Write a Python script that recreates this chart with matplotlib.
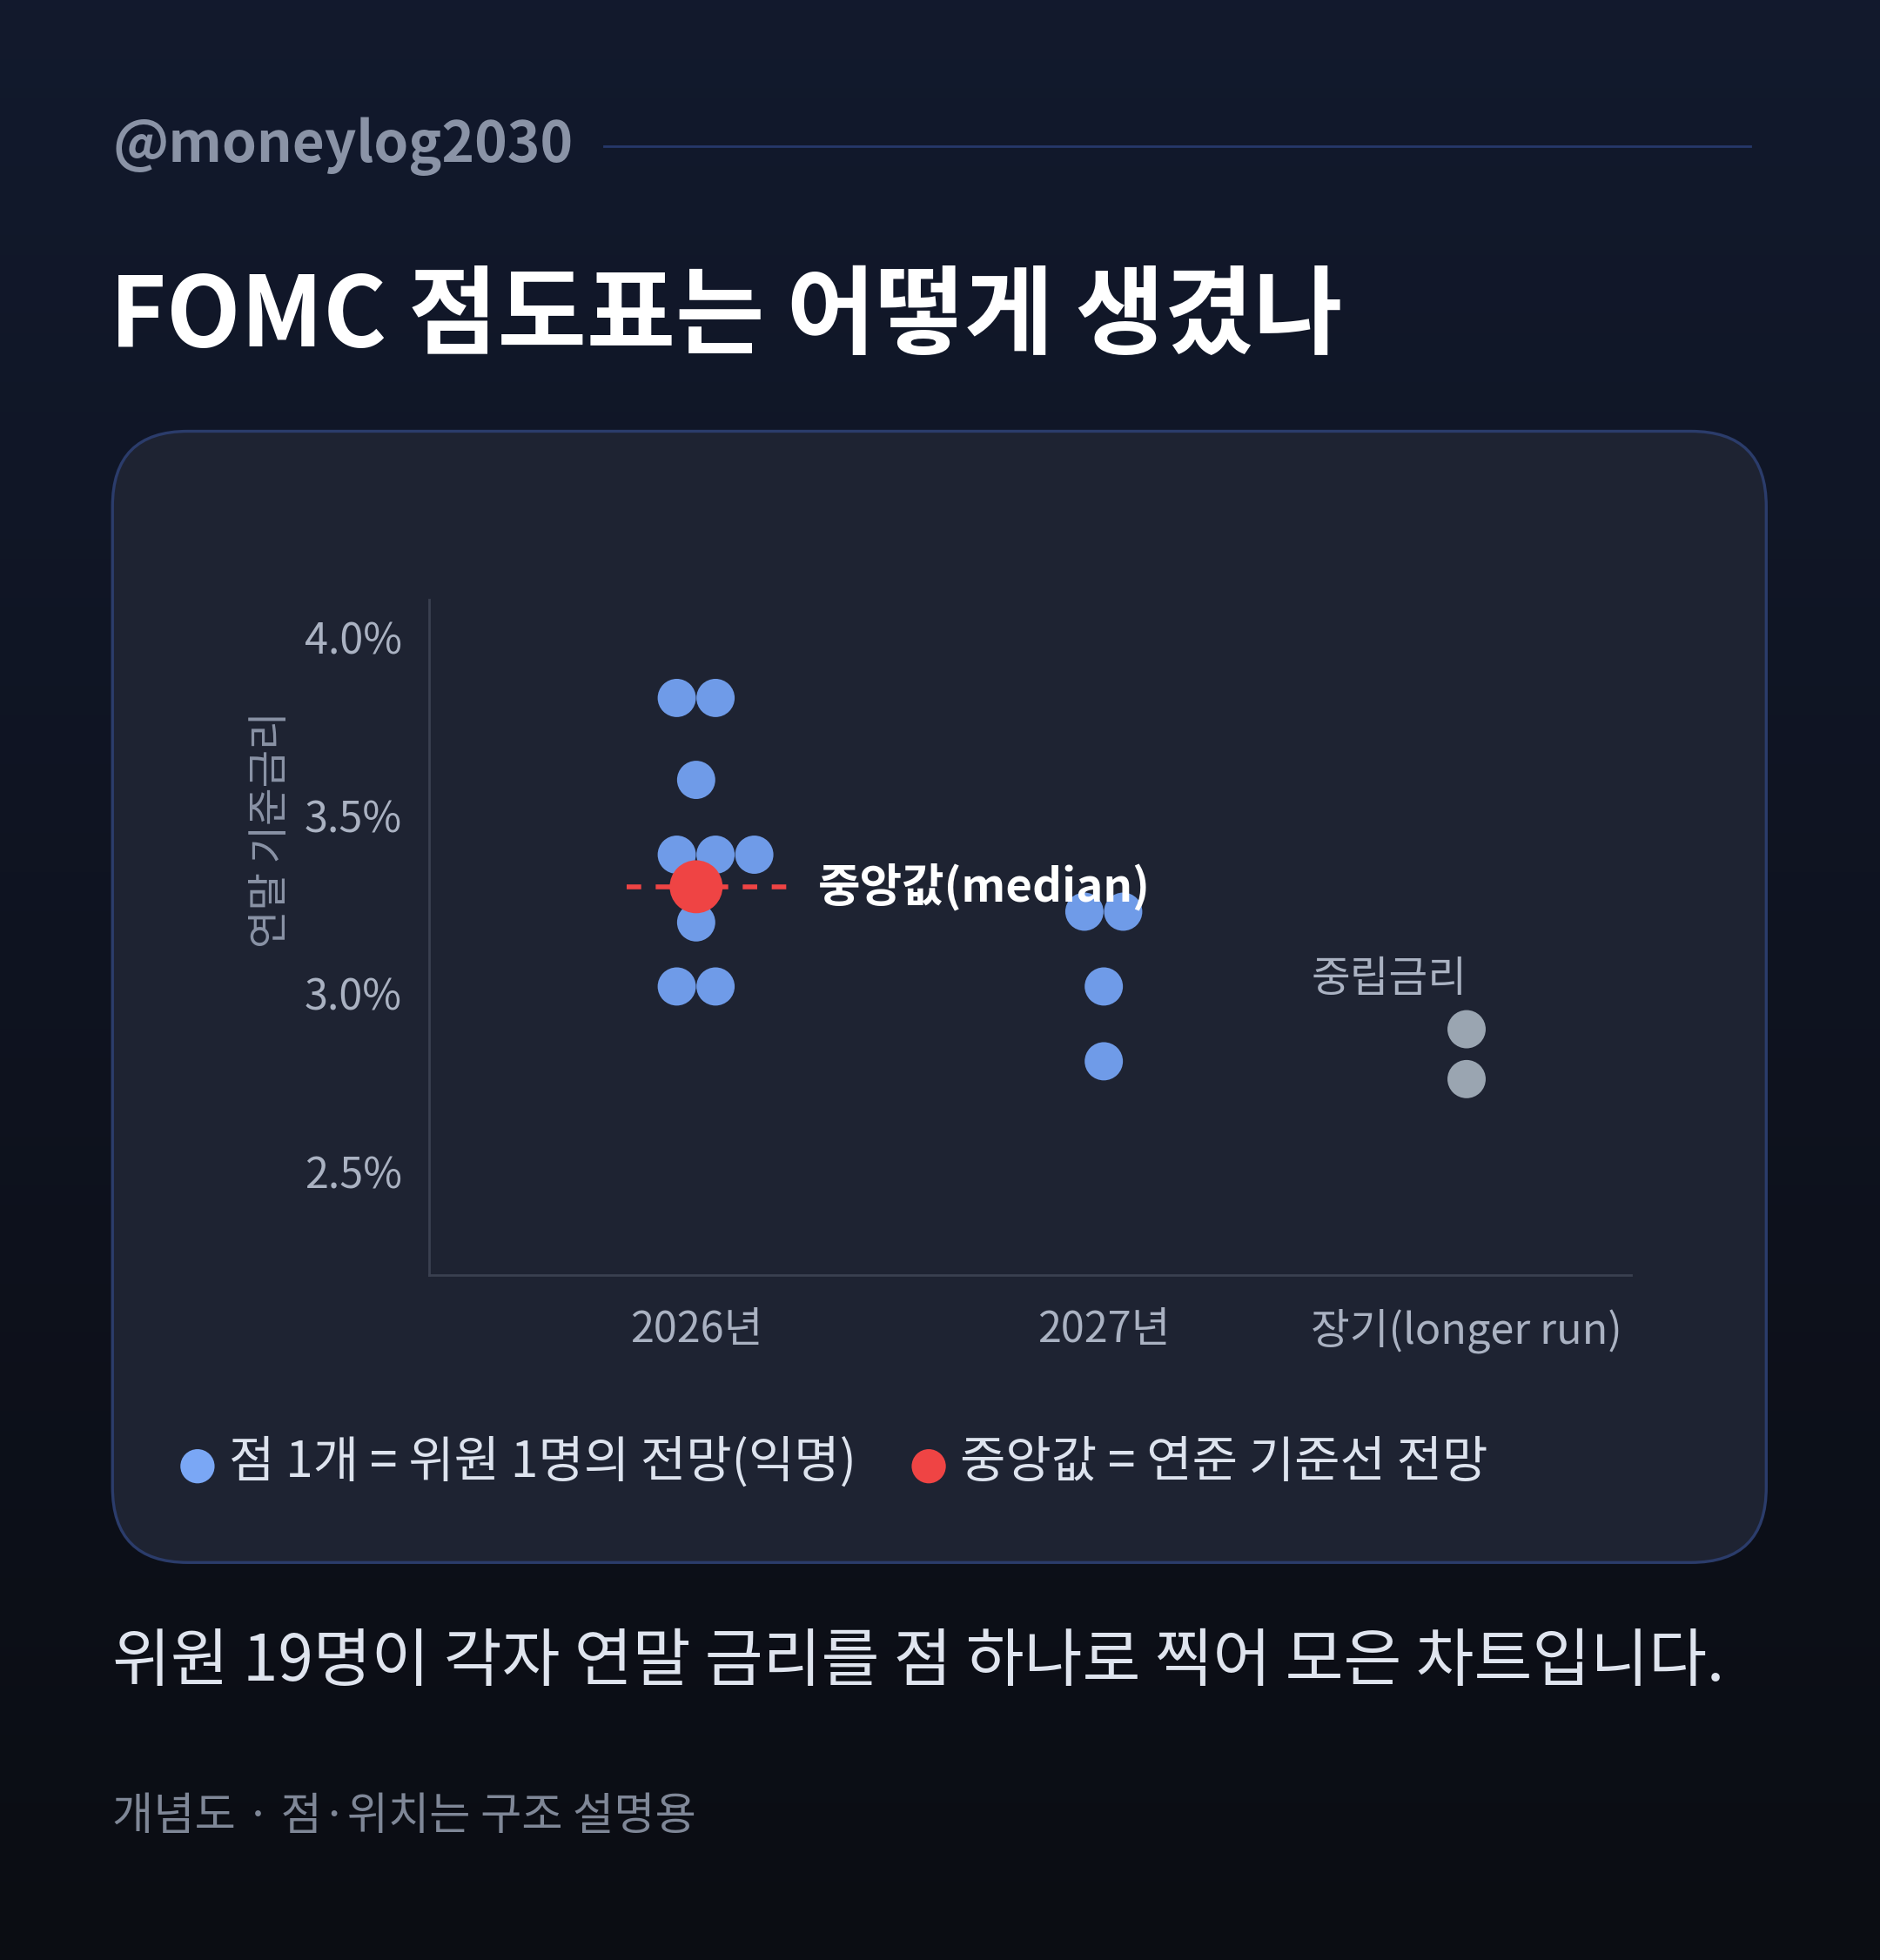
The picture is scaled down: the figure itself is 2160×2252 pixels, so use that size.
import matplotlib
matplotlib.use("Agg")
import matplotlib.pyplot as plt
import numpy as np
from matplotlib.patches import FancyBboxPatch

plt.rcParams['font.family'] = ['Noto Sans CJK KR', 'DejaVu Sans']

# ---- data ----
categories = ["2026년", "2027년", "장기(longer run)"]
cat_pos = [0, 1, 1.89]
dots_2026 = [3.83, 3.83, 3.60, 3.39, 3.39, 3.39, 3.20, 3.02, 3.02]
slots_2026 = [-0.5, 0.5, 0, -0.5, 0.5, 1.5, 0, -0.5, 0.5]
dots_2027 = [3.23, 3.23, 3.02, 2.81]
slots_2027 = [-0.5, 0.5, 0, 0]
dots_long = [2.90, 2.76]
median_2026 = 3.30
yticks = [2.5, 3.0, 3.5, 4.0]
ytick_labels = ["2.5%", "3.0%", "3.5%", "4.0%"]

W, H = 1504, 1568
fig = plt.figure(figsize=(10.8, 11.26), dpi=200)

bg = fig.add_axes([0, 0, 1, 1])
bg.set_axis_off()
gx, gy = np.meshgrid(np.linspace(0, 1, 200), np.linspace(0, 1, 200))
c_top = np.array([0x13, 0x1b, 0x30]) / 255
c_bot = np.array([0x0b, 0x0d, 0x13]) / 255
w = (gy * 0.9)[..., None]
img = c_bot[None, None, :] * (1 - w) + c_top[None, None, :] * w
bg.imshow(img, extent=[0, 1, 0, 1], origin='lower', aspect='auto')
bg.set_xlim(0, 1); bg.set_ylim(0, 1)

def fx(x): return x / W
def fy(y): return 1 - y / H

panel = FancyBboxPatch((fx(90), fy(1250)), fx(1413) - fx(90), fy(345) - fy(1250),
                       boxstyle="round,pad=0,rounding_size=0.04", transform=bg.transAxes,
                       facecolor="#1e2332", edgecolor="#2b3c6b", linewidth=1.2, mutation_aspect=W / H)
bg.add_patch(panel)

fig.text(fx(90), fy(117), "@moneylog2030", color="#8a93a6", fontsize=23, fontweight='bold', va='center', ha='left')
bg.plot([fx(483), fx(1400)], [fy(117), fy(117)], color="#26386a", lw=1.0)
fig.text(fx(88), fy(255), "FOMC 점도표는 어떻게 생겼나", color="white", fontsize=40, fontweight='bold', va='center', ha='left')

ax = fig.add_axes([fx(343), fy(1020), fx(1305) - fx(343), fy(480) - fy(1020)])
ax.patch.set_alpha(0)
ax.set_xlim(-0.656, 2.294)
ax.set_ylim(2.21, 4.105)
for s in ['top', 'right']:
    ax.spines[s].set_visible(False)
for s in ['left', 'bottom']:
    ax.spines[s].set_color("#3a4050")
    ax.spines[s].set_linewidth(1.0)
ax.set_yticks(yticks)
ax.set_yticklabels(ytick_labels)
ax.set_xticks(cat_pos)
ax.set_xticklabels(categories)
ax.tick_params(axis='both', length=0, colors="#aab2c2", labelsize=17.5)
ax.tick_params(axis='y', pad=11)
ax.tick_params(axis='x', pad=14)
ax.set_ylabel("연말 기준금리", color="#8a93a6", fontsize=17)
ax.yaxis.set_label_coords(-0.113, 0.66)

sp = 31 / 326
blue = "#6f9be8"
ax.scatter([cat_pos[0] + s * sp for s in slots_2026], dots_2026, s=250, color=blue, edgecolors='none', zorder=3)
ax.scatter([cat_pos[1] + s * sp for s in slots_2027], dots_2027, s=250, color=blue, edgecolors='none', zorder=3)
ax.scatter([cat_pos[2]] * len(dots_long), dots_long, s=250, color="#9aa5b1", edgecolors='none', zorder=3)
ax.plot([cat_pos[0] - 0.17, cat_pos[0] + 0.23], [median_2026, median_2026], color="#ef4444", lw=2, ls=(0, (3, 3)), zorder=4)
ax.scatter([cat_pos[0]], [median_2026], s=480, color="#ef4444", edgecolors='none', zorder=5)
ax.text(cat_pos[0] + 0.3, median_2026, "중앙값(median)", color="white", fontsize=19, fontweight='bold', va='center', ha='left', zorder=6)
ax.text(1.7, 3.04, "중립금리", color="#aab2c2", fontsize=17.5, va='center', ha='center')

bg.scatter([fx(158)], [fy(1173)], s=200, color="#7aa7f5", edgecolors='none', transform=bg.transAxes)
fig.text(fx(183), fy(1170), "점 1개 = 위원 1명의 전망(익명)", color="#dde3ee", fontsize=20.5, va='center', ha='left')
bg.scatter([fx(743)], [fy(1173)], s=200, color="#ef4444", edgecolors='none', transform=bg.transAxes)
fig.text(fx(768), fy(1170), "중앙값 = 연준 기준선 전망", color="#dde3ee", fontsize=20.5, va='center', ha='left')

fig.text(fx(90), fy(1330), "위원 19명이 각자 연말 금리를 점 하나로 찍어 모은 차트입니다.", color="#dfe4ee", fontsize=26.2, va='center', ha='left')
fig.text(fx(90), fy(1453), "개념도 · 점·위치는 구조 설명용", color="#7f8797", fontsize=18.5, va='center', ha='left')

fig.savefig("out.png", dpi=200)
